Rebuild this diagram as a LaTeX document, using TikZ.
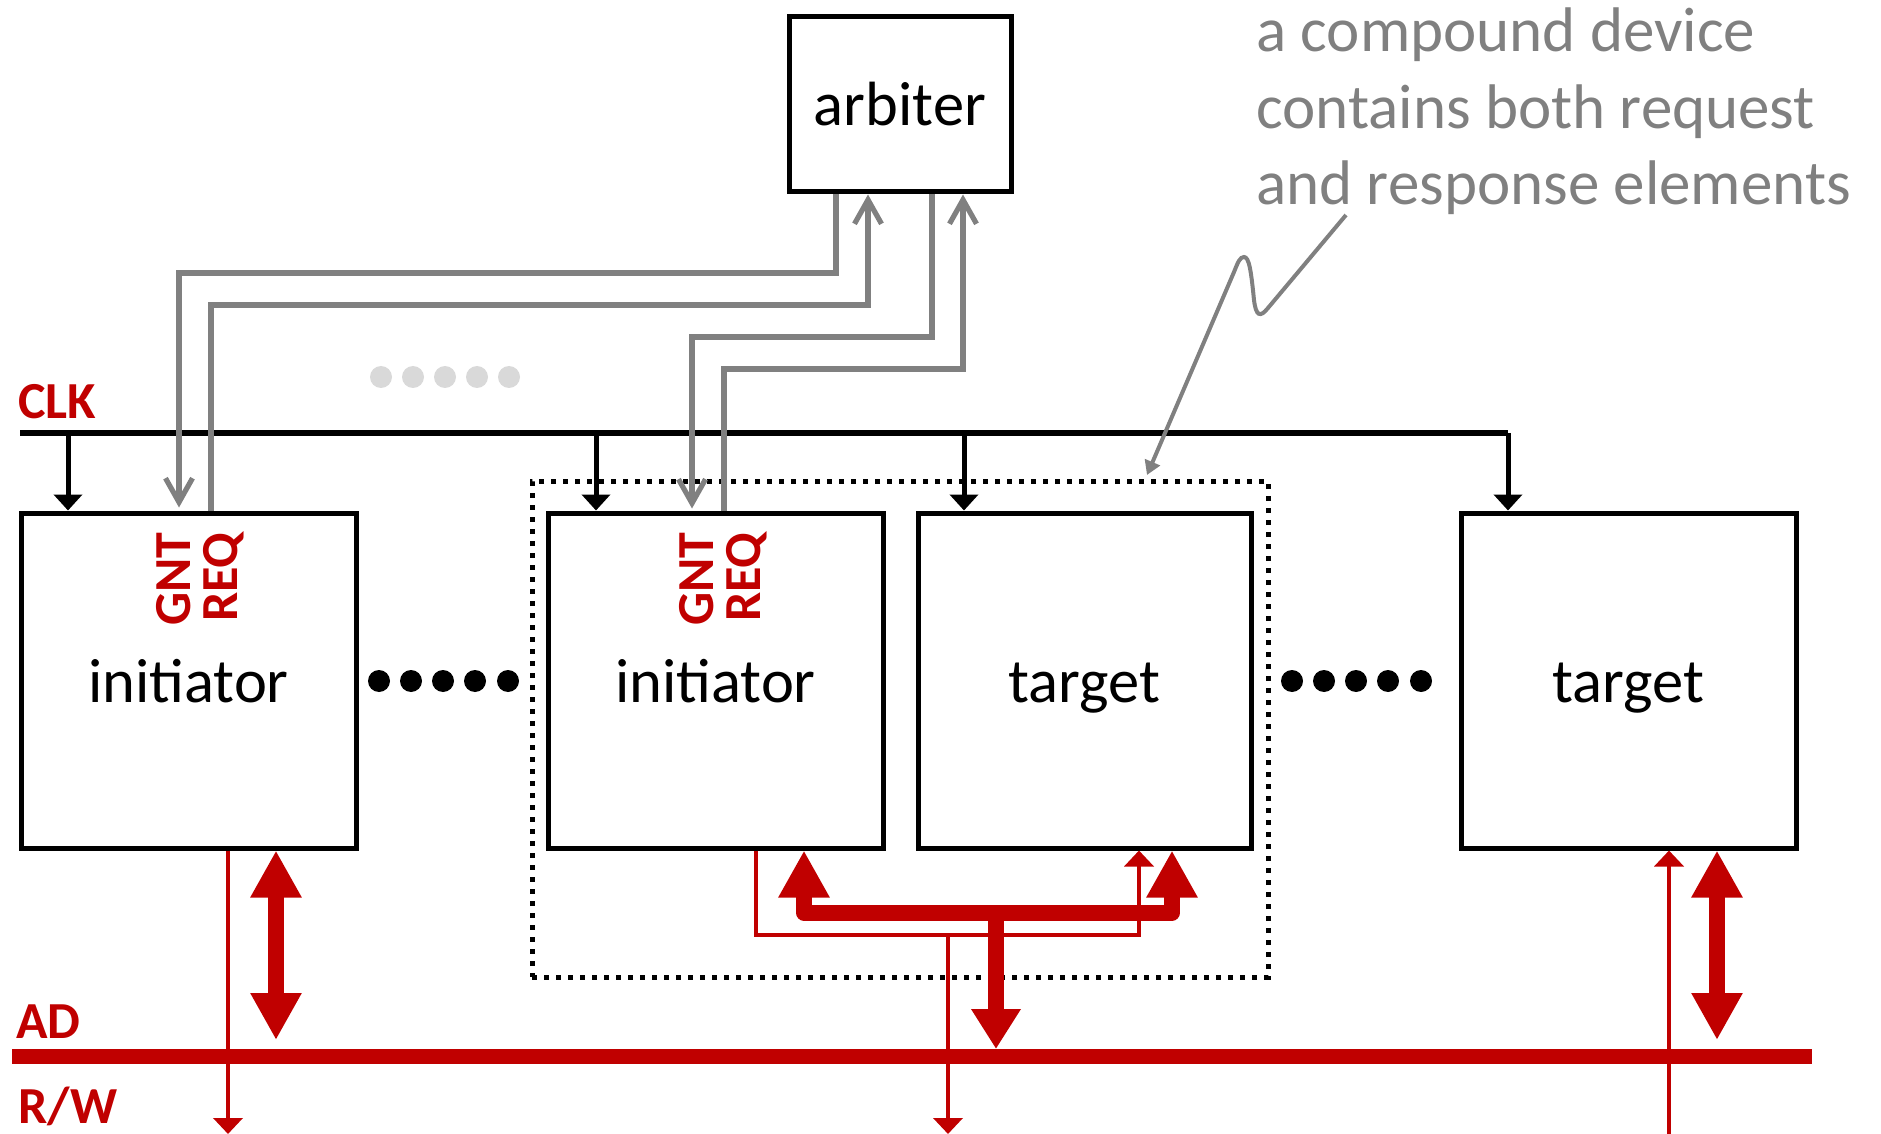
\documentclass[tikz,border=0pt]{standalone}
\usepackage{fontspec}
\setmainfont{Carlito}
\usetikzlibrary{arrows.meta}
\definecolor{myred}{RGB}{192,0,0}
\definecolor{mygray}{RGB}{128,128,128}
\definecolor{dotgray}{RGB}{217,217,217}
\begin{document}
\begin{tikzpicture}[x=0.5pt,y=-0.5pt,
  unitbox/.style={draw, line width=2.5pt, inner sep=0pt, minimum width=167.5pt, minimum height=167.5pt,
    font=\fontsize{31.25}{37}\selectfont, text height=21.5pt, text depth=0pt},
  dotbox/.style={draw, line width=2.5pt, dash pattern=on 2.5pt off 3.5pt, inner sep=0pt,
    minimum width=368pt, minimum height=248pt},
  clkline/.style={draw, line width=2.7pt},
  clkdrop/.style={draw, line width=2.5pt, -{Triangle[width=14pt,length=8pt]}},
  gl/.style={draw=mygray, line width=2.6pt, -{Straight Barb[width=13.5pt,length=12pt]}},
  callout/.style={draw=mygray, line width=2pt, -{Triangle[width=8pt,length=7pt]}},
  thinred/.style={draw=myred, line width=2.4pt},
  thickred/.style={draw=myred, line width=8pt},
  thintip/.tip={Triangle[width=14.5pt,length=8pt]},
  thicktip/.tip={Triangle[width=24pt,length=23.5pt]},
  adtip/.tip={Triangle[width=23.5pt,length=20pt]},
  adbus/.style={draw=myred, line width=7.5pt},
  lbl/.style={text=myred, font=\fontsize{26}{30}\selectfont\bfseries, inner sep=0pt},
  bdot/.style={fill=black},
  gdot/.style={fill=dotgray}
]
\useasboundingbox (0,0) rectangle (1881,1134);

% boxes
\node[unitbox] (arb) at (900,104.5) [minimum width=111pt, minimum height=87.5pt] {arbiter};
\node[unitbox] (init1) at (188.5,680.5) {initiator};
\node[unitbox] (init2) at (715.5,680.5) {initiator};
\node[unitbox, minimum width=166.5pt] (tgt1) at (1084.5,680.5) {target};
\node[unitbox] (tgt2) at (1628.5,680.5) {target};
\node[dotbox] (comp) at (900,729) {};

% dots
\foreach \x in {381,413,445,477,509} \fill[gdot] (\x,377) circle[radius=5.5pt];
\foreach \x in {379,411,443,475,508} \fill[bdot] (\x,681) circle[radius=5.5pt];
\foreach \x in {1292,1324,1356,1388,1421} \fill[bdot] (\x,681) circle[radius=5.5pt];

% CLK
\coordinate (clkL) at (20,433);
\coordinate (clk1) at (68,433);
\coordinate (clk2) at (596,433);
\coordinate (clk3) at (964,433);
\coordinate (clkR) at (1508,433);
\draw[clkline] (clkL) -- (clkR);
\draw[clkdrop] (clkR) -- (clkR |- tgt2.north);
\draw[clkdrop] (clk1) -- (clk1 |- init1.north);
\draw[clkdrop] (clk2) -- (clk2 |- init2.north);
\draw[clkdrop] (clk3) -- (clk3 |- tgt1.north);

% arbiter lines
\coordinate (a1) at (836,273); \coordinate (a2) at (179,273);
\coordinate (b1) at (211,305); \coordinate (b2) at (868,305);
\coordinate (c1) at (932,337); \coordinate (c2) at (692,337);
\coordinate (d1) at (724,369); \coordinate (d2) at (963,369);
\draw[gl, shorten >=1.5pt] (a1 |- arb.south) -- (a1) -- (a2) -- (a2 |- init1.north);
\draw[gl] (b1 |- init1.north) -- (b1) -- (b2) -- (b2 |- arb.south);
\draw[gl, shorten >=1pt] (c1 |- arb.south) -- (c1) -- (c2) -- (c2 |- init2.north);
\draw[gl] (d1 |- init2.north) -- (d1) -- (d2) -- (d2 |- arb.south);

% callout
\coordinate (cs) at (1346,215);
\coordinate (ct) at (1147,475);
\draw[callout] (cs) -- (1268,308) .. controls (1260,318) and (1256,316) .. (1254,300)
  .. controls (1251,270) and (1249,257) .. (1244,257)
  .. controls (1240,257) and (1238,262) .. (1234,272) -- (ct);
\node[anchor=base west, align=left, text=mygray, font=\fontsize{31.5}{38.25}\selectfont, inner sep=0pt]
  (note) at (1256,205) {a compound device\\contains both request\\and response elements};

% AD bus
\coordinate (adL) at (12,1056);
\coordinate (adR) at (1812,1056);
\draw[adbus] (adL) -- (adR);

% initiator 1
\coordinate (rw1) at (228,1134);
\coordinate (ad1) at (276,1040);
\draw[thinred, -thintip] (rw1 |- init1.south) -- (rw1);
\draw[thickred, thicktip-thicktip] (ad1 |- init1.south) -- (ad1);

% compound device
\coordinate (m1) at (756,935);
\coordinate (m2) at (1139,935);
\coordinate (m3) at (948,935);
\coordinate (m4) at (948,1134);
\draw[thinred, -thintip] (m1 |- init2.south) -- (m1) -- (m2) -- (m2 |- tgt1.south);
\draw[thinred, -thintip] (m3) -- (m4);
\coordinate (k1) at (804,912.5);
\coordinate (k2) at (1172,912.5);
\coordinate (k3) at (996,912.5);
\coordinate (k4) at (996,1049);
\draw[thickred, line join=round, thicktip-thicktip] (k1 |- init2.south) -- (k1) -- (k2) -- (k2 |- tgt1.south);
\draw[thickred, -adtip] (k3) -- (k4);

% target 2
\coordinate (t2a) at (1669,1134);
\coordinate (t2b) at (1717,1040);
\draw[thinred, -thintip] (t2a) -- (t2a |- tgt2.south);
\draw[thickred, thicktip-thicktip] (t2b |- tgt2.south) -- (t2b);

% labels
\node[lbl, anchor=base west] (clklbl) at (18,418) {CLK};
\node[lbl, anchor=base west] (adlbl) at (16,1038) {AD};
\node[lbl, anchor=base west] (rwlbl) at (18,1123) {R/W};
\node[lbl, rotate=90, anchor=base east] (gnt1) at (190,532) {GNT};
\node[lbl, rotate=90, anchor=base east] (req1) at (237,532) {REQ};
\node[lbl, rotate=90, anchor=base east] (gnt2) at (713,532) {GNT};
\node[lbl, rotate=90, anchor=base east] (req2) at (760,532) {REQ};
\end{tikzpicture}
\end{document}
